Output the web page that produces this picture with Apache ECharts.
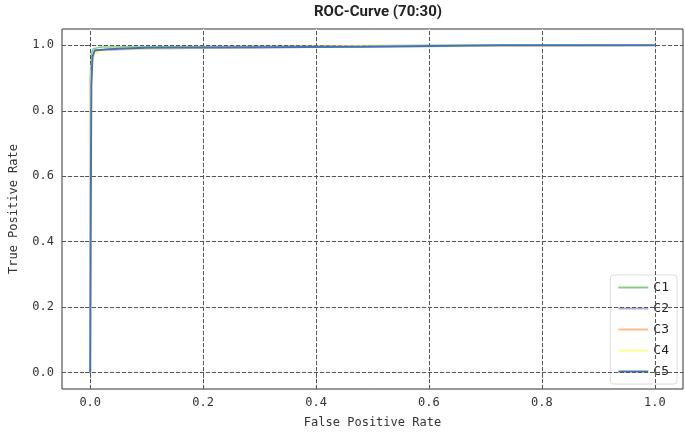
<!DOCTYPE html>
<html><head><meta charset="utf-8">
<script src="https://cdn.jsdelivr.net/npm/echarts@6/dist/echarts.min.js"></script>
<style>html,body{margin:0;padding:0;background:#fff}#c{width:685px;height:436px}</style>
</head><body><div id="c"></div>
<script>
// ROC 曲线数据 [FPR, TPR]
const names = ['C1', 'C2', 'C3', 'C4', 'C5'];
const colors = ['#88cc88', '#b8a8dc', '#ffbb88', '#ffff99', '#4472b4'];
const ticks = [0, 0.2, 0.4, 0.6, 0.8, 1.0];
const c1 = [[0,0],[0,0.9],[0.002,0.975],[0.005,0.99],[0.02,0.995],[0.3,0.997],[0.6,1],[1,1]];
const c2 = [[0,0],[0,0.85],[0.003,0.95],[0.008,0.975],[0.02,0.985],[0.1,0.99],[0.5,0.996],[1,1]];
const c3 = [[0,0],[0,0.88],[0.003,0.96],[0.008,0.98],[0.03,0.99],[0.2,0.995],[0.6,0.998],[1,1]];
const c4 = [[0,0],[0,0.86],[0.003,0.955],[0.01,0.978],[0.04,0.988],[0.2,0.993],[0.5,0.997],[1,1]];
const c5 = [[0,0],[0.001,0.5],[0.002,0.88],[0.004,0.965],[0.008,0.985],[0.05,0.99],[0.1,0.993],[0.48,0.996],[0.73,1],[1,1]];
const allData = [c1, c2, c3, c4, c5];

let chart = echarts.init(document.getElementById('c'));
const mono = 'DejaVu Sans Mono';
const axisCommon = {
  type: 'value', min: -0.05, max: 1.05, interval: 0.05,
  axisLine: { show: false },
  axisTick: { customValues: ticks, lineStyle: { color: '#333' } },
  axisLabel: { customValues: ticks, fontFamily: mono, fontSize: 12, color: '#333', formatter: v => v.toFixed(1) },
  splitLine: { lineStyle: { color: '#ebebeb', width: 1 } },
  nameLocation: 'middle', nameTextStyle: { fontFamily: mono, fontSize: 12, color: '#333' }
};
const dashed = { type: 'dashed', color: '#555', width: 1 };
var option = {
  title: { text: 'ROC-Curve (70:30)', left: 373, top: 0, textAlign: 'center',
    textStyle: { fontFamily: 'Roboto', fontWeight: 'bold', fontSize: 15, color: '#222' } },
  grid: { left: 62, right: 2, top: 29, bottom: 47, show: true, borderColor: '#333', borderWidth: 1 },
  xAxis: Object.assign({}, axisCommon, { name: 'False Positive Rate', nameGap: 28 }),
  yAxis: Object.assign({}, axisCommon, { name: 'True Positive Rate', nameGap: 42 }),
  legend: { data: names, orient: 'vertical', right: 8, bottom: 52, itemWidth: 30, itemHeight: 2, itemGap: 8,
    icon: 'rect', backgroundColor: 'rgba(255,255,255,0.9)', borderColor: '#ddd', borderWidth: 1, borderRadius: 3, padding: [6, 8],
    textStyle: { fontFamily: mono, fontSize: 13, color: '#222' } },
  series: names.map((n, i) => ({
    name: n, type: 'line', data: allData[i], showSymbol: false, symbol: 'none',
    color: colors[i], lineStyle: { width: i === 4 ? 2 : 1.5 }, z: 3 + i
  })).concat([{
    type: 'line', data: [], silent: true, z: 2,
    markLine: { silent: true, symbol: 'none', label: { show: false }, lineStyle: dashed,
      data: ticks.map(v => ({ xAxis: v })).concat(ticks.map(v => ({ yAxis: v }))) }
  }])
};
chart.setOption(option);
</script></body></html>
